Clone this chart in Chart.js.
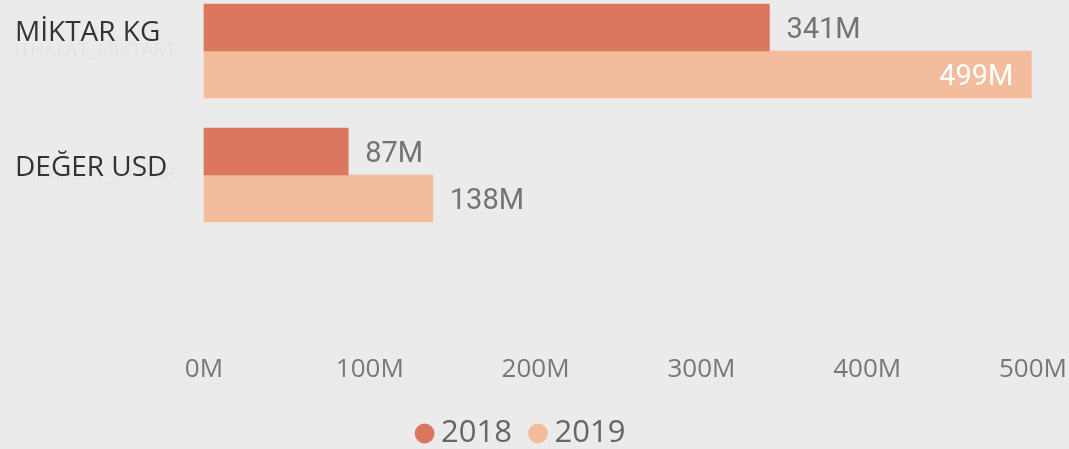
<!DOCTYPE html>
<html>
<head>
<meta charset="utf-8">
<script src="https://cdn.jsdelivr.net/npm/chart.js@4.4.0/dist/chart.umd.min.js"></script>
<style>
  body { margin: 0; background: #ebebeb; }
  #wrap { position: relative; width: 1069px; height: 449px; }
  .catLabel { position: absolute; left: 15px; font-family: "Open Sans", sans-serif; font-size: 28px; color: #333333; line-height: 1; white-space: nowrap; }
</style>
</head>
<body>
<div id="wrap">
  <canvas id="canvas"></canvas>
  <div class="catLabel" id="lab0" style="top:16px"></div>
  <div class="catLabel" id="lab1" style="top:151px"></div>
</div>
<script>
// field names (faint axis labels) and the titles shown over them
var categories = ["ITHALAT_MIKTAR1", "ITHALAT_DOLAR"];
var titles = ["MİKTAR KG", "DEĞER USD"];
var seriesNames = ["2018", "2019"];
var values2018 = [341, 87];   // millions
var values2019 = [499, 138];  // millions
var xTicks = [0, 100, 200, 300, 400, 500];

var colors = ["#db765f", "#f2bc9d"];

document.getElementById("lab0").textContent = titles[0];
document.getElementById("lab1").textContent = titles[1];

// data labels: outside the bar in grey, inside in white when it does not fit
var barLabels = {
  id: "barLabels",
  afterDatasetsDraw: function(chart) {
    var ctx = chart.ctx;
    var area = chart.chartArea;
    ctx.save();
    ctx.font = "400 29px Roboto, sans-serif";
    ctx.textBaseline = "middle";
    chart.data.datasets.forEach(function(ds, i) {
      var meta = chart.getDatasetMeta(i);
      meta.data.forEach(function(bar, j) {
        var text = ds.data[j] + "M";
        var w = ctx.measureText(text).width;
        if (bar.x + 17 + w > area.right) {
          ctx.fillStyle = "#ffffff";
          ctx.textAlign = "right";
          ctx.fillText(text, bar.x - 18, bar.y + 3);
        } else {
          ctx.fillStyle = "#737373";
          ctx.textAlign = "left";
          ctx.fillText(text, bar.x + 17, bar.y + 3);
        }
      });
    });
    ctx.restore();
  }
};

var chart = new Chart(document.getElementById("canvas"), {
  type: "bar",
  data: {
    labels: categories,
    datasets: [
      { label: seriesNames[0], data: values2018, backgroundColor: colors[0], borderWidth: 0, barThickness: 47, clip: false },
      { label: seriesNames[1], data: values2019, backgroundColor: colors[1], borderWidth: 0, barThickness: 47, clip: false }
    ]
  },
  options: {
    indexAxis: "y",
    responsive: true,
    maintainAspectRatio: false,
    animation: false,
    layout: { padding: { top: 51, right: 36, left: 16, bottom: -10 } },
    scales: {
      x: {
        min: 0,
        max: 500,
        afterBuildTicks: function(scale) {
          scale.ticks = xTicks.map(function(v) { return { value: v }; });
        },
        afterFit: function(scale) {
          // the big tick padding only pushes the labels down; keep it out of the side padding
          scale.height = 218;
          scale.paddingLeft = 0;
          scale.paddingRight = 0;
        },
        grid: { display: false },
        border: { display: false },
        ticks: {
          padding: 174,
          color: "#777777",
          font: { family: "Open Sans", size: 26, lineHeight: 1 },
          callback: function(v) { return v + "M"; }
        }
      },
      y: {
        offset: false,
        afterFit: function(scale) { scale.width = 188; },
        grid: { display: false },
        border: { display: false },
        ticks: {
          padding: 20,
          color: "#e3e3e3",
          font: { family: "Open Sans", size: 19 }
        }
      }
    },
    plugins: {
      tooltip: { enabled: false },
      legend: {
        position: "bottom",
        labels: {
          usePointStyle: true,
          pointStyle: "circle",
          boxWidth: 2,
          boxHeight: 14,
          padding: 25,
          color: "#666666",
          font: { family: "Open Sans", size: 31 }
        }
      }
    }
  },
  plugins: [barLabels]
});
</script>
</body>
</html>
